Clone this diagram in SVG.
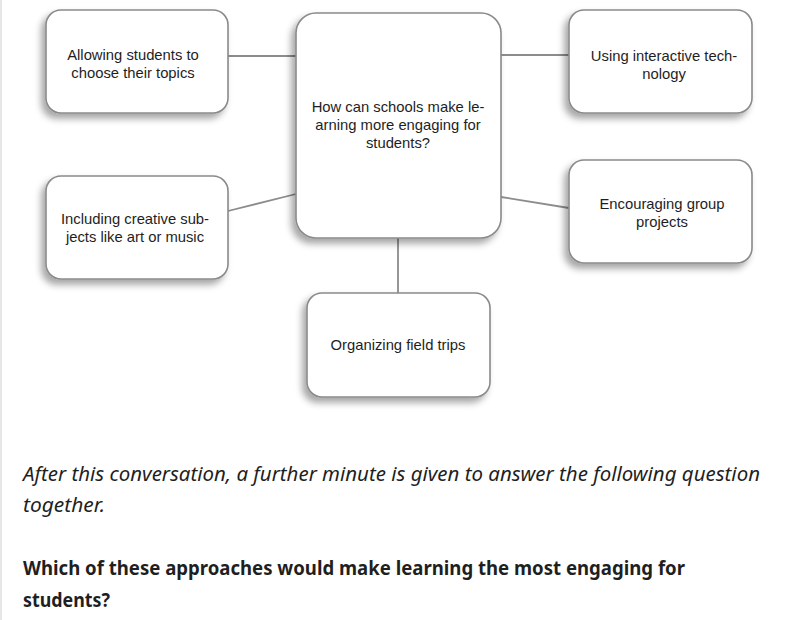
<svg xmlns="http://www.w3.org/2000/svg" width="793" height="620" viewBox="0 0 793 620">
<defs>
<filter id="sh" x="-20%" y="-20%" width="140%" height="150%">
<feDropShadow dx="-4" dy="5" stdDeviation="3.5" flood-color="#000" flood-opacity="0.35"/>
</filter>
<style>
.box{fill:#fff;stroke:#8a8a8a;stroke-width:1.6;filter:url(#sh)}
.lbl{font-family:"Liberation Sans",Arial,sans-serif;font-size:14.8px;fill:#1e1e1e;text-anchor:middle}
.con{stroke:#8c8c8c;stroke-width:1.8;fill:none}
.q{font-family:"Noto Sans","Liberation Sans",sans-serif;font-size:19px;fill:#1f1f1f}
</style>
</defs>
<rect x="0" y="0" width="793" height="620" fill="#fff"/>
<line x1="1" y1="0" x2="1" y2="620" stroke="#e6e6e6" stroke-width="2"/>
<g id="connectors">
<line class="con" x1="228" y1="56" x2="296" y2="56"/>
<line class="con" x1="501" y1="55" x2="569" y2="55"/>
<line class="con" x1="228" y1="211" x2="296" y2="194"/>
<line class="con" x1="501" y1="197" x2="569" y2="208"/>
<line class="con" x1="398" y1="238" x2="398" y2="293"/>
</g>
<g id="center">
<rect class="box" x="296" y="13" width="205" height="225" rx="20"/>
<text class="lbl" x="398" y="112">How can schools make le-</text>
<text class="lbl" x="398" y="130">arning more engaging for</text>
<text class="lbl" x="398" y="148">students?</text>
</g>
<g id="n-choose">
<rect class="box" x="46" y="10" width="182" height="103" rx="15"/>
<text class="lbl" x="133" y="60">Allowing students to</text>
<text class="lbl" x="133" y="78">choose their topics</text>
</g>
<g id="n-creative">
<rect class="box" x="46" y="176" width="182" height="103" rx="15"/>
<text class="lbl" x="135" y="224">Including creative sub-</text>
<text class="lbl" x="135" y="242">jects like art or music</text>
</g>
<g id="n-tech">
<rect class="box" x="569" y="10" width="183" height="103" rx="15"/>
<text class="lbl" x="664" y="61">Using interactive tech-</text>
<text class="lbl" x="664" y="79">nology</text>
</g>
<g id="n-group">
<rect class="box" x="569" y="160" width="183" height="103" rx="15"/>
<text class="lbl" x="662" y="209">Encouraging group</text>
<text class="lbl" x="662" y="227">projects</text>
</g>
<g id="n-trips">
<rect class="box" x="307" y="293" width="183" height="104" rx="15"/>
<text class="lbl" x="398" y="350">Organizing field trips</text>
</g>
<g id="caption">
<text class="q" x="23" y="481" font-style="italic" textLength="737" lengthAdjust="spacingAndGlyphs">After this conversation, a further minute is given to answer the following question</text>
<text class="q" x="23" y="512" font-style="italic" textLength="82" lengthAdjust="spacingAndGlyphs">together.</text>
<text class="q" x="23" y="575" font-weight="bold" textLength="662" lengthAdjust="spacingAndGlyphs">Which of these approaches would make learning the most engaging for</text>
<text class="q" x="23" y="607" font-weight="bold" textLength="87" lengthAdjust="spacingAndGlyphs">students?</text>
</g>
</svg>
